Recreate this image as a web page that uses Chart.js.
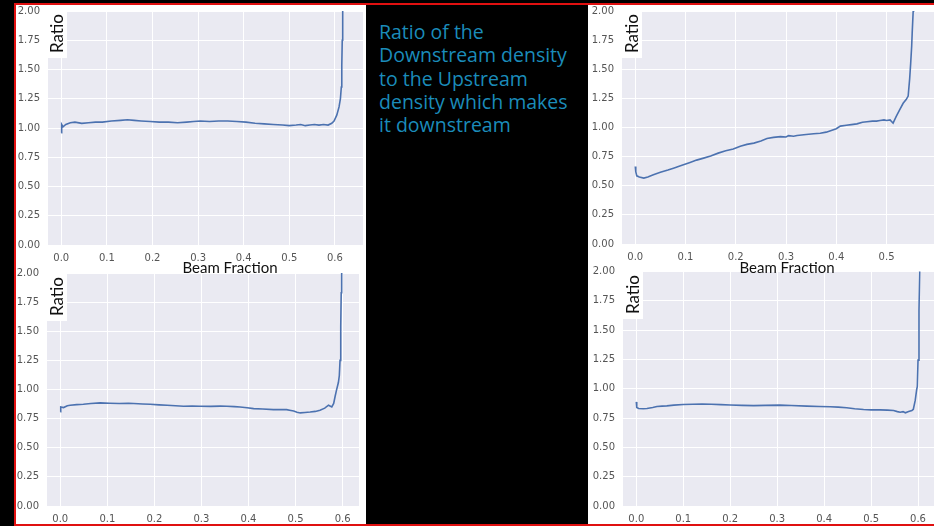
<!DOCTYPE html>
<html>
<head>
<meta charset="utf-8">
<script src="https://cdn.jsdelivr.net/npm/chart.js@4"></script>
<style>
  html, body { margin: 0; padding: 0; background: #000; }
  body { width: 934px; height: 526px; position: relative; overflow: hidden; }
  .panel { position: absolute; background: #fff; }
  .panel canvas { position: absolute; left: 0; top: 0; }
  .frame { position: absolute; left: 14px; top: 3px; width: 940px; height: 519px; border: 2px solid #e01010; }
  .note { position: absolute; left: 379px; top: 20px; color: #1b8cba; font-family: 'Open Sans', sans-serif; font-size: 19.5px; line-height: 23.3px; white-space: nowrap; }
  .xlabel { position: absolute; font-family: Lato, sans-serif; font-size: 15px; color: #111; transform: translate(-50%, -50%); white-space: nowrap; z-index: 5; }
  .ylabel { position: absolute; width: 20px; height: 48px; background: #fff; z-index: 5; }
  .ylabel span { position: absolute; left: 0; top: 3px; width: 20px; height: 42px; writing-mode: vertical-rl; transform: rotate(180deg);
    font-family: Lato, sans-serif; font-size: 17px; color: #111; text-align: center; line-height: 20px; }
</style>
</head>
<body>
<div class="frame"></div>

<div class="panel" style="left:16px; top:5px; width:350px; height:260px;"><canvas id="tl" width="350" height="260"></canvas></div>
<div class="panel" style="left:16px; top:265px; width:350px; height:259px;"><canvas id="bl" width="350" height="259"></canvas></div>
<div class="panel" style="left:588px; top:5px; width:346px; height:260px;"><canvas id="tr" width="346" height="260"></canvas></div>
<div class="panel" style="left:588px; top:265px; width:346px; height:259px;"><canvas id="br" width="346" height="259"></canvas></div>

<div class="note">Ratio of the<br>Downstream density<br>to the Upstream<br>density which makes<br>it downstream</div>

<div class="xlabel" style="left:230px; top:267px;">Beam Fraction</div>
<div class="xlabel" style="left:787px; top:267px;">Beam Fraction</div>

<div class="ylabel" style="left:47px; top:10px;"><span>Ratio</span></div>
<div class="ylabel" style="left:47px; top:273px;"><span>Ratio</span></div>
<div class="ylabel" style="left:622px; top:10px;"><span>Ratio</span></div>
<div class="ylabel" style="left:623px; top:271px;"><span>Ratio</span></div>

<script>
// tick values shared by all four plots
const xTicks = [0, 0.1, 0.2, 0.3, 0.4, 0.5, 0.6];
const yTicks = [0, 0.25, 0.5, 0.75, 1, 1.25, 1.5, 1.75, 2];

// top left
const tlX = [0, 0.001, 0.004, 0.01, 0.02, 0.03, 0.045, 0.06, 0.075, 0.09, 0.11, 0.13, 0.145, 0.16, 0.175, 0.195,
  0.215, 0.235, 0.255, 0.275, 0.29, 0.305, 0.325, 0.345, 0.365, 0.385, 0.405, 0.425, 0.445, 0.465, 0.485, 0.5,
  0.515, 0.525, 0.535, 0.545, 0.555, 0.565, 0.575, 0.585, 0.593, 0.598, 0.604, 0.609, 0.612, 0.614, 0.615, 0.616, 0.617, 0.618];
const tlY = [0.96, 1.03, 1.01, 1.03, 1.045, 1.05, 1.04, 1.045, 1.05, 1.05, 1.06, 1.065, 1.07, 1.065, 1.06, 1.055,
  1.05, 1.05, 1.045, 1.05, 1.055, 1.06, 1.055, 1.06, 1.06, 1.055, 1.05, 1.04, 1.035, 1.03, 1.025, 1.02,
  1.025, 1.03, 1.02, 1.025, 1.03, 1.025, 1.03, 1.025, 1.04, 1.06, 1.11, 1.18, 1.25, 1.35, 1.53, 1.75, 2.0, 2.2];

// top right
const trX = [0, 0.001, 0.003, 0.008, 0.017, 0.025, 0.036, 0.05, 0.065, 0.076, 0.09, 0.109, 0.122, 0.136, 0.15, 0.165,
  0.18, 0.195, 0.209, 0.222, 0.236, 0.25, 0.262, 0.275, 0.289, 0.3, 0.305, 0.315, 0.322, 0.34, 0.355, 0.368,
  0.38, 0.39, 0.4, 0.408, 0.42, 0.43, 0.441, 0.452, 0.461, 0.472, 0.48, 0.487, 0.495, 0.5, 0.507, 0.513,
  0.519, 0.526, 0.533, 0.539, 0.543, 0.546, 0.548, 0.55, 0.551, 0.553, 0.554];
const trY = [0.665, 0.62, 0.585, 0.575, 0.566, 0.575, 0.594, 0.615, 0.635, 0.651, 0.672, 0.7, 0.72, 0.737, 0.755, 0.78,
  0.8, 0.815, 0.84, 0.855, 0.866, 0.885, 0.905, 0.915, 0.922, 0.918, 0.93, 0.925, 0.932, 0.94, 0.946, 0.95,
  0.96, 0.975, 0.99, 1.012, 1.02, 1.025, 1.031, 1.045, 1.05, 1.055, 1.055, 1.06, 1.065, 1.06, 1.065, 1.037,
  1.094, 1.151, 1.208, 1.24, 1.27, 1.42, 1.55, 1.7, 1.81, 2.0, 2.2];

// bottom left
const blX = [0, 0.001, 0.007, 0.015, 0.021, 0.035, 0.049, 0.065, 0.085, 0.105, 0.125, 0.145, 0.156, 0.175, 0.191, 0.21,
  0.227, 0.245, 0.262, 0.28, 0.297, 0.32, 0.34, 0.354, 0.37, 0.382, 0.397, 0.411, 0.43, 0.453, 0.47, 0.481,
  0.49, 0.496, 0.503, 0.51, 0.52, 0.531, 0.542, 0.552, 0.562, 0.57, 0.577, 0.581, 0.584, 0.587, 0.591, 0.593,
  0.5945, 0.596, 0.597, 0.598, 0.599];
const blY = [0.81, 0.85, 0.845, 0.86, 0.865, 0.87, 0.873, 0.88, 0.885, 0.882, 0.88, 0.882, 0.88, 0.876, 0.873, 0.868,
  0.865, 0.86, 0.856, 0.857, 0.856, 0.855, 0.857, 0.856, 0.853, 0.85, 0.843, 0.836, 0.832, 0.827, 0.828, 0.827,
  0.82, 0.815, 0.805, 0.799, 0.803, 0.807, 0.812, 0.822, 0.84, 0.865, 0.85, 0.88, 0.94, 0.994, 1.06, 1.12,
  1.25, 1.54, 1.83, 2.0, 2.2];

// bottom right
const brX = [0, 0.001, 0.005, 0.015, 0.0227, 0.035, 0.044, 0.055, 0.065, 0.08, 0.1, 0.12, 0.14, 0.16, 0.18, 0.2,
  0.225, 0.25, 0.275, 0.306, 0.33, 0.363, 0.39, 0.413, 0.43, 0.448, 0.465, 0.484, 0.5, 0.519, 0.535, 0.548,
  0.556, 0.562, 0.568, 0.573, 0.58, 0.587, 0.59, 0.594, 0.597, 0.5985, 0.6, 0.602, 0.6035, 0.605];
const brY = [0.888, 0.84, 0.832, 0.83, 0.832, 0.84, 0.848, 0.852, 0.854, 0.86, 0.866, 0.868, 0.87, 0.868, 0.865, 0.862,
  0.858, 0.856, 0.858, 0.86, 0.857, 0.852, 0.848, 0.846, 0.843, 0.838, 0.83, 0.823, 0.82, 0.82, 0.818, 0.815,
  0.805, 0.8, 0.805, 0.795, 0.805, 0.815, 0.825, 0.9, 0.99, 1.02, 1.244, 1.67, 2.0, 2.2];

// grey plotting area like seaborn darkgrid
const plotBg = {
  id: 'plotBg',
  beforeDraw(chart) {
    const { ctx, chartArea: a } = chart;
    ctx.save();
    ctx.fillStyle = '#eaeaf2';
    ctx.fillRect(a.left, a.top, a.width, a.height);
    ctx.restore();
  }
};

const tickFont = { family: 'DejaVu Sans', size: 10 };

// stop the label overflow from pushing the plot area around
function noPad(s) {
  s.paddingTop = 0; s.paddingBottom = 0; s.paddingLeft = 0; s.paddingRight = 0;
}

function makeChart(id, xs, ys, opt) {
  const points = xs.map((x, i) => ({ x: x, y: ys[i] }));
  new Chart(document.getElementById(id), {
    type: 'line',
    data: {
      datasets: [{
        data: points,
        borderColor: '#4c72b0',
        borderWidth: 1.6,
        pointRadius: 0,
        tension: 0
      }]
    },
    options: {
      responsive: false,
      animation: false,
      devicePixelRatio: 1,
      layout: { padding: { left: 0, top: opt.top, right: opt.right, bottom: 0 } },
      plugins: { legend: { display: false }, tooltip: { enabled: false } },
      scales: {
        x: {
          type: 'linear',
          min: opt.xmin,
          max: opt.xmax,
          afterFit: s => { s.height = opt.xh; noPad(s); },
          afterBuildTicks: s => { s.ticks = xTicks.filter(v => v >= opt.xmin && v <= opt.xmax).map(v => ({ value: v })); },
          ticks: { callback: v => v.toFixed(1), font: tickFont, color: '#555', padding: 7, maxRotation: 0, autoSkip: false },
          grid: { color: '#fff', lineWidth: 1, drawTicks: false },
          border: { display: false }
        },
        y: {
          min: 0,
          max: 2,
          afterFit: s => { s.width = opt.yw; noPad(s); },
          afterBuildTicks: s => { s.ticks = yTicks.map(v => ({ value: v })); },
          ticks: { callback: v => v.toFixed(2), font: tickFont, color: '#555', padding: 8, autoSkip: false },
          grid: { color: '#fff', lineWidth: 1, drawTicks: false },
          border: { display: false }
        }
      }
    },
    plugins: [plotBg]
  });
}

makeChart('tl', tlX, tlY, { xmin: -0.029, xmax: 0.6615, yw: 32, xh: 20, top: 6, right: 3 });
makeChart('tr', trX, trY, { xmin: -0.0264, xmax: 0.5944, yw: 34, xh: 21, top: 6, right: 0 });
makeChart('bl', blX, blY, { xmin: -0.0282, xmax: 0.6348, yw: 31, xh: 18, top: 8, right: 7 });
makeChart('br', brX, brY, { xmin: -0.0283, xmax: 0.634, yw: 35, xh: 18, top: 6.5, right: 0 });
</script>
</body>
</html>
